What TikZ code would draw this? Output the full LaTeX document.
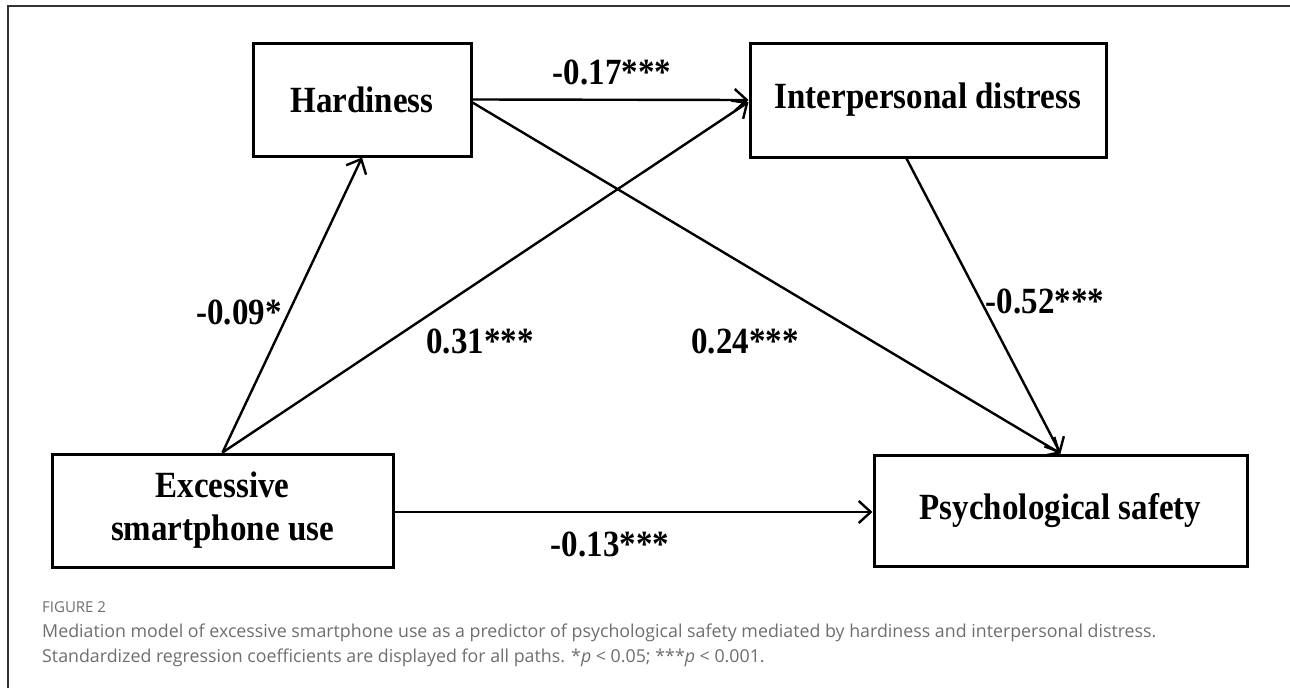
\documentclass[tikz,border=0pt]{standalone}
\usepackage{fontspec}
\setmainfont{Liberation Serif}
\newfontfamily\capfont{Open Sans}
\usetikzlibrary{arrows.meta,calc}
\definecolor{capgray}{HTML}{6E6E6E}
\definecolor{framegray}{HTML}{333333}
\newcommand\tallt[1]{\scalebox{1}[1.12]{#1}}
\tikzset{
  varbox/.style={draw=black, line width=3pt, minimum width=#1, inner sep=0pt, align=center,
    font=\fontsize{33}{43}\selectfont\bfseries},
  path/.style={line width=2.4pt, -{Straight Barb[length=12pt,width=22pt,line width=2.4pt]}},
  coef/.style={font=\fontsize{33}{40}\selectfont\bfseries, inner sep=0pt},
  capt/.style={font=\capfont\fontsize{17.8}{25}\selectfont, text=capgray, inner sep=0pt, anchor=base west}
}
\begin{document}
\begin{tikzpicture}[x=1pt,y=-1pt]
\useasboundingbox (0,0) rectangle (1290,688);
\draw[framegray, line width=1.5pt] (8,688) -- (8,6) -- (1290,6);
\node[varbox=218pt, minimum height=113pt] (hard) at (362,99.5) {\tallt{Hardiness}};
\node[varbox=356pt, minimum height=114pt] (inter) at (928,100) {\tallt{Interpersonal distress}};
\node[varbox=341pt, minimum height=113pt] (ex) at (222.5,510.5) {\tallt{Excessive}\\\tallt{smartphone use}};
\node[varbox=373pt, minimum height=111pt] (psy) at (1060.5,510.5) {\tallt{Psychological safety}};
\draw[path] ([xshift=172pt]ex.north west) -- (hard.south);
\draw[path] ([xshift=172pt]ex.north west) -- ([yshift=-2pt]inter.west);
\draw[path] (hard.east) -- (inter.west);
\draw[path] ([yshift=-3pt]hard.east) -- ([xshift=188pt]psy.north west);
\draw[path] ([xshift=158pt]inter.south west) -- ([xshift=188pt]psy.north west);
\draw[path] ([yshift=-1.5pt]ex.east) -- ([yshift=-1.5pt]psy.west);
\node[coef] (c1) at (612,72) {\tallt{-0.17***}};
\node[coef] (c2) at (239,312) {\tallt{-0.09*}};
\node[coef] (c3) at (480,341) {\tallt{0.31***}};
\node[coef] (c4) at (745,341) {\tallt{0.24***}};
\node[coef] (c5) at (1045,301) {\tallt{-0.52***}};
\node[coef] (c6) at (610,544) {\tallt{-0.13***}};
\node[capt, font=\capfont\fontsize{15}{16}\selectfont] (fig) at (42,612) {FIGURE 2};
\node[capt] (l1) at (42,637) {Mediation model of excessive smartphone use as a predictor of psychological safety mediated by hardiness and interpersonal distress.};
\node[capt] (l2) at (42,662) {Standardized regression coefficients are displayed for all paths. *\textit{p} < 0.05; ***\textit{p} < 0.001.};
\end{tikzpicture}
\end{document}
